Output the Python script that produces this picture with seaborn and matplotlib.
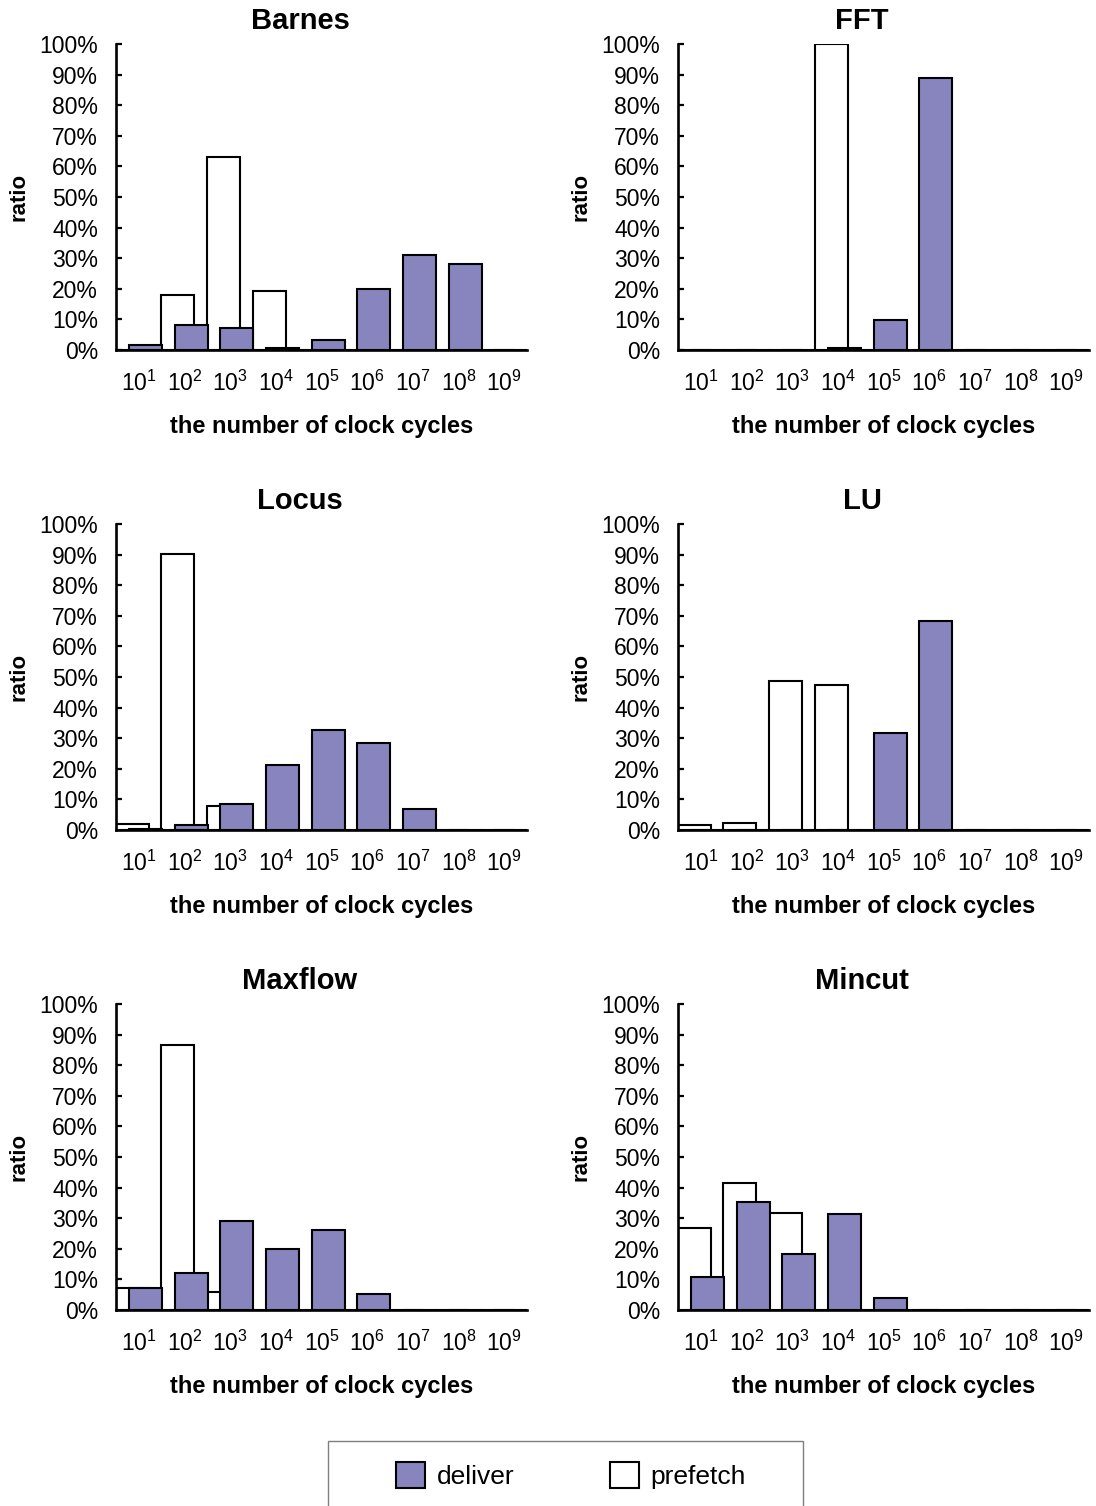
import numpy as np
import pandas as pd
import matplotlib
matplotlib.use("Agg")
import matplotlib.pyplot as plt
import seaborn as sns
from matplotlib.patches import Patch, Rectangle
from matplotlib.ticker import FuncFormatter

# Histogram bins: 10^1 ... 10^9 clock cycles
exponents = [1, 2, 3, 4, 5, 6, 7, 8, 9]
tick_labels = [rf"$\mathregular{{10^{{{e}}}}}$" for e in exponents]

# Ratios in percent per bin
barnes_prefetch = [0.0, 17.9, 63.0, 19.4, 0.0, 0.0, 0.0, 0.0, 0.0]
barnes_deliver = [1.6, 8.2, 7.1, 0.6, 3.3, 19.8, 30.9, 28.0, 0.0]

fft_prefetch = [0.0, 0.0, 0.0, 100.0, 0.0, 0.0, 0.0, 0.0, 0.0]
fft_deliver = [0.0, 0.0, 0.0, 0.6, 9.8, 89.0, 0.0, 0.0, 0.0]

locus_prefetch = [2.0, 90.2, 7.9, 0.0, 0.0, 0.0, 0.0, 0.0, 0.0]
locus_deliver = [0.4, 1.5, 8.6, 21.2, 32.7, 28.5, 7.0, 0.0, 0.0]

lu_prefetch = [1.6, 2.4, 48.8, 47.3, 0.0, 0.0, 0.0, 0.0, 0.0]
lu_deliver = [0.0, 0.0, 0.0, 0.0, 31.6, 68.4, 0.0, 0.0, 0.0]

maxflow_prefetch = [7.1, 86.6, 6.0, 0.0, 0.0, 0.0, 0.0, 0.0, 0.0]
maxflow_deliver = [7.3, 12.2, 29.1, 19.8, 26.1, 5.2, 0.0, 0.0, 0.0]

mincut_prefetch = [26.9, 41.4, 31.6, 0.0, 0.0, 0.0, 0.0, 0.0, 0.0]
mincut_deliver = [10.8, 35.4, 18.2, 31.3, 4.0, 0.0, 0.0, 0.0, 0.0]

titles = ["Barnes", "FFT", "Locus", "LU", "Maxflow", "Mincut"]
prefetch_sets = [barnes_prefetch, fft_prefetch, locus_prefetch,
                 lu_prefetch, maxflow_prefetch, mincut_prefetch]
deliver_sets = [barnes_deliver, fft_deliver, locus_deliver,
                lu_deliver, maxflow_deliver, mincut_deliver]

PURPLE = "#8884BE"

sns.set_style("white")
plt.rcParams["font.family"] = ["Liberation Sans", "DejaVu Sans"]
plt.rcParams["mathtext.fontset"] = "custom"
plt.rcParams["mathtext.rm"] = "Liberation Sans"
for key in ("text.color", "axes.labelcolor", "xtick.color", "ytick.color"):
    plt.rcParams[key] = "black"

W, H = 1096, 1506
fig = plt.figure(figsize=(W / 100, H / 100), dpi=100)

col_left = [116, 678]
col_width = 411
row_top = [44, 524, 1004]
row_height = 306


def draw_panel(ax, prefetch, deliver):
    pos = np.arange(len(exponents))
    df_p = pd.DataFrame({"x": pos - 0.145, "ratio": prefetch})
    df_d = pd.DataFrame({"x": pos + 0.145, "ratio": deliver})
    sns.barplot(data=df_p, x="x", y="ratio", native_scale=True, width=0.72,
                color="white", saturation=1, edgecolor="black", linewidth=1.5,
                errorbar=None, ax=ax)
    sns.barplot(data=df_d, x="x", y="ratio", native_scale=True, width=0.72,
                color=PURPLE, saturation=1, edgecolor="black", linewidth=1.5,
                errorbar=None, ax=ax)
    ax.set_xlim(-0.5, len(exponents) - 0.5)
    ax.set_ylim(0, 100)
    ax.set_yticks(np.arange(0, 101, 10))
    ax.yaxis.set_major_formatter(FuncFormatter(lambda v, _: f"{v:.0f}%"))
    ax.set_xticks(pos)
    ax.set_xticklabels(tick_labels)
    ax.set_xlabel("")
    ax.set_ylabel("")
    for side in ("top", "right"):
        ax.spines[side].set_visible(False)
    for side in ("left", "bottom"):
        ax.spines[side].set_linewidth(1.9)
        ax.spines[side].set_color("black")
    ax.tick_params(axis="y", direction="in", length=4, width=1.6,
                   labelsize=16.5, pad=13, left=True, colors="black")
    ax.tick_params(axis="x", length=0, labelsize=16.5, pad=15, colors="black")


for i, title in enumerate(titles):
    r, c = divmod(i, 2)
    left = col_left[c]
    top = row_top[r]
    ax = fig.add_axes([left / W, 1 - (top + row_height) / H,
                       col_width / W, row_height / H])
    draw_panel(ax, prefetch_sets[i], deliver_sets[i])

    fig.text((left + 184) / W, 1 - (top - 23) / H, title, ha="center",
             va="center", fontsize=21, fontweight="bold")
    fig.text((left + 205.5) / W, 1 - (top + 382) / H,
             "the number of clock cycles", ha="center", va="center",
             fontsize=17, fontweight="bold")
    fig.text((left - 97) / W, 1 - (top + 153) / H, "ratio", ha="center",
             va="center", rotation=90, fontsize=16, fontweight="bold")

# Legend box, running off the bottom edge
fig.patches.append(Rectangle((328 / W, -0.02), (803 - 328) / W,
                             0.02 + 1 - 1441 / H, transform=fig.transFigure,
                             facecolor="white", edgecolor="#7f7f7f",
                             linewidth=1.0, clip_on=False))
handles = [Patch(facecolor=PURPLE, edgecolor="black", linewidth=1.5, label="deliver"),
           Patch(facecolor="white", edgecolor="black", linewidth=1.5, label="prefetch")]
fig.legend(handles=handles, loc="center", bbox_to_anchor=(571 / W, 1 - 1475.5 / H),
           ncol=2, frameon=False, fontsize=19, handlelength=1.1, handleheight=1.1,
           handletextpad=0.45, columnspacing=3.6)

fig.savefig("out.png", dpi=100)
